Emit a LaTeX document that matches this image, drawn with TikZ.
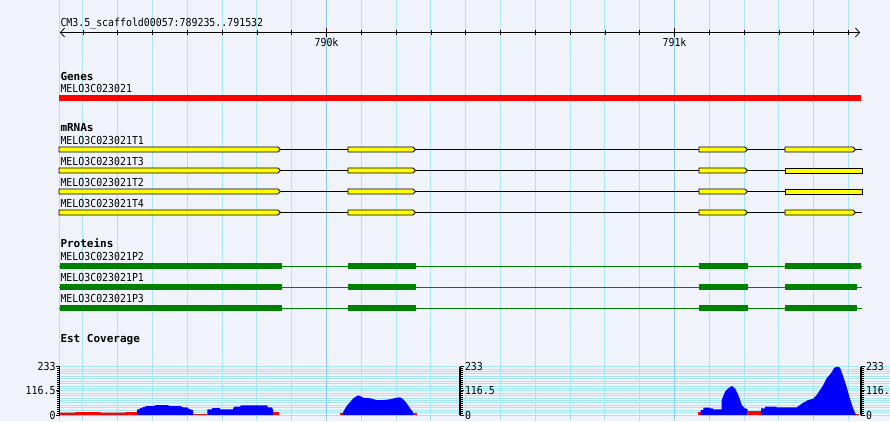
\documentclass[tikz,border=0pt]{standalone}
\usepackage{fontspec}
\usetikzlibrary{arrows.meta}
\newfontfamily\trackfont[FakeStretch=0.9]{DejaVu Sans Mono}
\newfontfamily\headfont{DejaVu Sans Mono}
\definecolor{bgpanel}{RGB}{240,244,250}
\definecolor{gridcyan}{RGB}{168,230,240}
\definecolor{kbblue}{RGB}{135,205,240}
\definecolor{genered}{RGB}{255,0,0}
\definecolor{exonyellow}{RGB}{255,255,0}
\definecolor{protgreen}{RGB}{0,128,0}
\definecolor{covblue}{RGB}{0,0,255}

\begin{document}
\begin{tikzpicture}[x=1pt,y=-1pt,line width=1pt,
        featlabel/.style={anchor=base west,inner sep=0pt,font=\trackfont\fontsize{11}{11}\selectfont},
        trackhead/.style={anchor=base west,inner sep=0pt,font=\headfont\bfseries\fontsize{11}{11}\selectfont},
        axlabel/.style={inner sep=0pt,font=\trackfont\fontsize{11}{11}\selectfont},
        exonbox/.style={draw=black,fill=exonyellow,line width=0.9pt},
        barb/.style={{Straight Barb[length=4pt,width=9pt]}-{Straight Barb[length=4pt,width=9pt]}}]
        \useasboundingbox (0,0) rectangle (890,421);
        \fill[bgpanel] (0,0) rectangle (890,421);

        \foreach \k in {-7,...,15}
            \draw[gridcyan] ({326.5+34.8*\k},0) -- ({326.5+34.8*\k},421);
        \draw[gridcyan] (59.5,0) -- (59.5,421);
        \foreach \i in {0,...,20}
            \draw[gridcyan] (60,{366.7+2.415*\i}) -- (890,{366.7+2.415*\i});
        \foreach \x in {326.5,674.5}
            \draw[kbblue] (\x,0) -- (\x,421);

        \draw[barb,line width=0.8pt] (60,32.5) -- (860,32.5);
        \foreach \k in {-7,...,15}
            \draw[line width=0.8pt] ({326.5+34.8*\k},29.5) -- ++(0,5.5);
        \foreach \x in {326.5,674.5}
            \draw[line width=0.8pt] (\x,27.5) -- (\x,37);
        \node[featlabel] (refname) at (60,26) {CM3.5\_scaffold00057:789235..791532};
        \node[featlabel,anchor=base] (kb790) at (326.5,46) {790k};
        \node[featlabel,anchor=base] (kb791) at (674.5,46) {791k};

        \node[trackhead] (genes) at (60,80) {Genes};
        \node[featlabel] (gene) at (60,92.3) {MELO3C023021};
        \fill[genered] (59,95) rectangle (861,101);

        \node[trackhead] (mrnas) at (60,131.7) {mRNAs};
        \foreach \y/\t/\e/\tp in {149.5/T1/853/2.5, 170.5/T3/862/0, 191.5/T2/862/0, 212.5/T4/853/2.5}{
            \node[featlabel] (mrna\t) at (60,\y-5.5) {MELO3C023021\t};
            \draw[line width=0.9pt] (59,\y) -- (862,\y);
            \foreach \a/\b/\p in {59/278/2.5, 348/413/2.5, 699/745/2.5, 785/\e/\tp}
                \draw[exonbox] (\a,\y-2.5) -- (\b,\y-2.5) -- (\b+\p,\y) -- (\b,\y+2.5) -- (\a,\y+2.5) -- cycle;
        }

        \node[trackhead] (proteins) at (60,247.7) {Proteins};
        \foreach \y/\pn/\e in {266/P2/861, 287/P1/857, 308/P3/857}{
            \node[featlabel] (prot\pn) at (60,\y-6) {MELO3C023021\pn};
            \draw[protgreen] (59,\y) -- (861.5,\y);
            \foreach \a/\b in {60/282, 348/416, 699/748, 785/\e}
                \fill[protgreen] (\a,\y-3) rectangle (\b,\y+3);
        }

        \node[trackhead] (estcov) at (60,342.7) {Est Coverage};
        \fill[genered] (60,415) -- (60,412.5) -- (75,412.5) -- (76,412) -- (100,412) -- (101,412.7) -- (125,412.7) -- (126,412) -- (137,412) -- (137,415) -- cycle;
        \fill[genered] (193,415) rectangle (207.3,413.5);
        \fill[genered] (273,415) rectangle (278.5,412);
        \fill[genered] (340,415) rectangle (343,413.2);
        \fill[genered] (413,415) rectangle (416.7,413.2);
        \fill[genered] (698.3,415) rectangle (701,412.3);
        \fill[genered] (747.7,415) rectangle (761,410.7);
        \fill[genered] (855.5,415) rectangle (859.3,413.8);
        \fill[covblue] (137,415) -- (137,410) -- (140,408.5) -- (143,407.3) -- (147,406) -- (153,406) -- (157,405) -- (167,405) -- (170,406) -- (180,406) -- (183,407.3) -- (187,407.3) -- (189,409) -- (193,410) -- (193,415) -- cycle;
        \fill[covblue] (207.3,415) -- (207.3,409.3) -- (212,409.3) -- (212,408) -- (220,408) -- (220,409.3) -- (233,409.3) -- (234,406.7) -- (240,406.7) -- (241,405.3) -- (267,405.3) -- (268,407.3) -- (272,407.3) -- (273,410) -- (273,415) -- cycle;
        \fill[covblue] (342.7,415) -- (343.3,411.7) -- (346.7,406) -- (353.3,398.3) -- (358.3,395.3) -- (363.3,397.7) -- (370,398.3) -- (376.7,400) -- (383.3,400) -- (390,399.3) -- (396.7,397.7) -- (400,397.3) -- (403.3,399.3) -- (406.7,403.3) -- (410,408.3) -- (412.7,411.7) -- (413.3,415) -- cycle;
        \fill[covblue] (700.7,415) -- (700.7,410) -- (703.3,410) -- (703.3,407.7) -- (710,407.7) -- (710,408.3) -- (713,408.3) -- (713,409.3) -- (721.7,409.3) -- (721.7,400) -- (725,391.7) -- (728.3,388.3) -- (731.7,386) -- (735,388.3) -- (738.3,395) -- (741.7,405) -- (745,408.3) -- (747.7,409.3) -- (747.7,415) -- cycle;
        \fill[covblue] (761,415) -- (761,408.3) -- (765,408.3) -- (765,406.7) -- (776.7,406.7) -- (776.7,407.3) -- (796.7,407.3) -- (800,405) -- (803.3,402.7) -- (808.3,400) -- (813.3,398.7) -- (816.7,395) -- (820,390) -- (823.3,385) -- (826.7,378.3) -- (831,373.3) -- (834.3,367.7) -- (837.7,366.7) -- (840,367.7) -- (842.7,375) -- (846,385) -- (849.3,396.7) -- (852.7,407.3) -- (855,412.7) -- (856,415) -- cycle;

        \foreach \ax/\dir in {59.5/-1, 460/1, 861/1}{
            \draw[line width=1.6pt] (\ax,366.7) -- (\ax,415);
            \foreach \i in {0,...,24}
                \draw[line width=0.7pt] (\ax,{366.7+2.0125*\i}) -- ++({2.8*\dir},0);
            \foreach \v in {366.7,390.85,415}
                \draw[line width=0.9pt] (\ax,\v) -- ++({3.8*\dir},0);
        }
        \foreach \v/\txt/\nm in {366.7/233/max, 390.85/116.5/mid, 415/0/zero}{
            \node[axlabel,anchor=east] (left\nm) at (56,\v) {\txt};
            \node[axlabel,anchor=west] (centre\nm) at (464.5,\v) {\txt};
            \node[axlabel,anchor=west] (right\nm) at (865.5,\v) {\txt};
        }
\end{tikzpicture}
\end{document}
